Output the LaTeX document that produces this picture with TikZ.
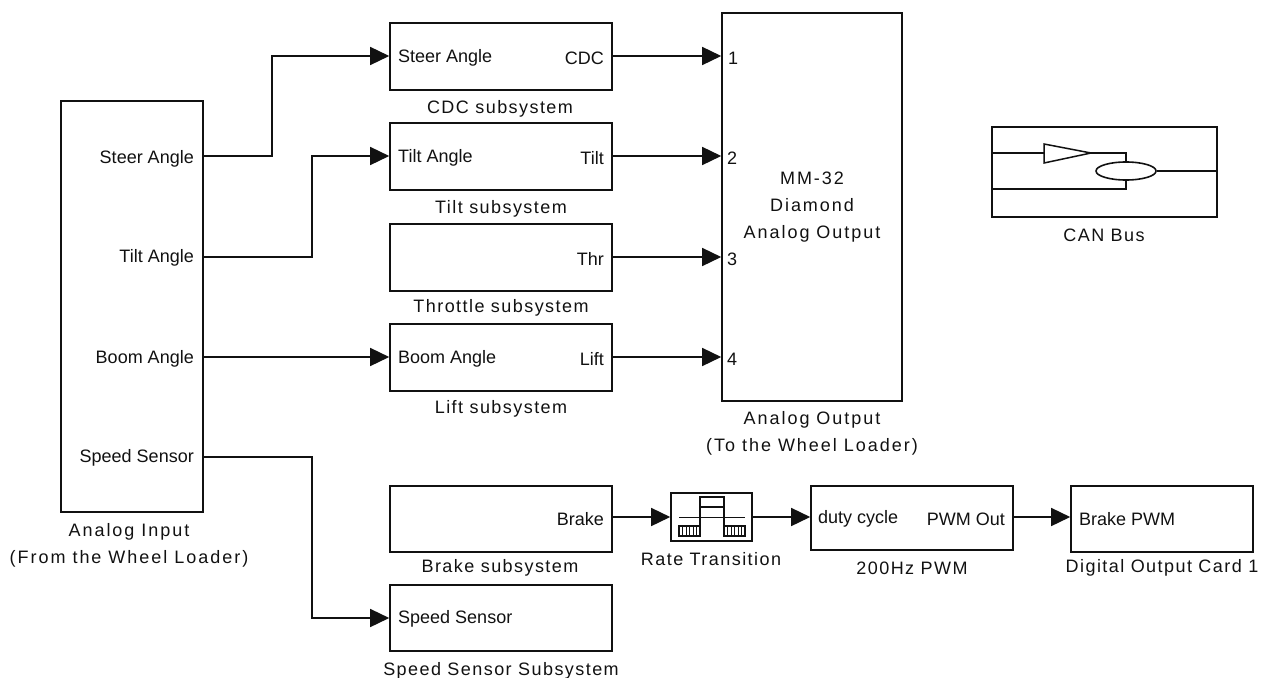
\documentclass[tikz,border=0pt]{standalone}
\usepackage{fontspec}
\setmainfont{Liberation Sans}
\newfontfamily\capfont[LetterSpace=8]{Liberation Sans}
\newfontfamily\capwidefont[LetterSpace=11]{Liberation Sans}
\usepackage{tikz}
\usetikzlibrary{arrows.meta,shapes.geometric}
\definecolor{ink}{HTML}{111111}
\tikzset{
  edge/.style={draw=ink, line width=1.6pt},
  blockbox/.style={edge, rectangle, inner sep=0pt},
  wire/.style={draw=ink, line width=1.5pt, -{Triangle[length=19pt,width=18pt]}},
  iconline/.style={draw=ink, line width=1.5pt},
  hatch/.style={draw=ink, line width=0.8pt},
  lab/.style={text=ink, font=\fontsize{18}{27}\selectfont, inner sep=0pt, yshift=-2pt},
  capt/.style={text=ink, font=\fontsize{18}{27}\capfont, align=center, inner sep=0pt, yshift=-2pt},
  captwide/.style={capt, font=\fontsize{18}{27}\capwidefont},
  portl/.style={lab, anchor=west},
  portr/.style={lab, anchor=east},
}

\begin{document}
\begin{tikzpicture}[x=1pt,y=-1pt]
  \useasboundingbox (0,0) rectangle (1271,677);

  % blocks
  \node[blockbox, minimum width=142pt, minimum height=411pt] (input) at (132,306.5) {};
  \node[blockbox, minimum width=222pt, minimum height=67pt] (cdc) at (501,56.5) {};
  \node[blockbox, minimum width=222pt, minimum height=67pt] (tilt) at (501,156.5) {};
  \node[blockbox, minimum width=222pt, minimum height=67pt] (thr) at (501,257.5) {};
  \node[blockbox, minimum width=222pt, minimum height=67pt] (lift) at (501,357.5) {};
  \node[blockbox, minimum width=180pt, minimum height=388pt] (output) at (812,207) {};
  \node[blockbox, minimum width=225pt, minimum height=90pt] (can) at (1104.5,172) {};
  \node[blockbox, minimum width=222pt, minimum height=66pt] (brake) at (501,519) {};
  \node[blockbox, minimum width=222pt, minimum height=66pt] (speed) at (501,618) {};
  \node[blockbox, minimum width=81pt, minimum height=48pt] (rate) at (711.5,517) {};
  \node[blockbox, minimum width=202pt, minimum height=64pt] (pwm) at (912,518) {};
  \node[blockbox, minimum width=182pt, minimum height=66pt] (card) at (1162,519) {};

  % port rows
  \coordinate (r1) at (0,56);
  \coordinate (r2) at (0,156);
  \coordinate (r3) at (0,257);
  \coordinate (r4) at (0,357);
  \coordinate (r5) at (0,517);
  \coordinate (r6) at (0,618);
  \coordinate (s1) at (272,156);
  \coordinate (s2) at (312,257);
  \coordinate (s4) at (312,457);

  % wires
  \draw[wire] (input.east |- r2) -- (s1) |- (cdc.west |- r1);
  \draw[wire] (input.east |- s2) -- (s2) |- (tilt.west |- r2);
  \draw[wire] (input.east |- r4) -- (lift.west |- r4);
  \draw[wire] (input.east |- s4) -- (s4) |- (speed.west |- r6);
  \draw[wire] (cdc.east |- r1) -- (output.west |- r1);
  \draw[wire] (tilt.east |- r2) -- (output.west |- r2);
  \draw[wire] (thr.east |- r3) -- (output.west |- r3);
  \draw[wire] (lift.east |- r4) -- (output.west |- r4);
  \draw[wire] (brake.east |- r5) -- (rate.west |- r5);
  \draw[wire] (rate.east |- r5) -- (pwm.west |- r5);
  \draw[wire] (pwm.east |- r5) -- (card.west |- r5);

  % port labels
  \node[portr] (l1) at (194,157) {Steer Angle};
  \node[portr] (l2) at (194,256) {Tilt Angle};
  \node[portr] (l3) at (194,357) {Boom Angle};
  \node[portr] (l4) at (194,456) {Speed Sensor};
  \node[portl] (l5) at (398,56) {Steer Angle};
  \node[portr] (l6) at (604,56) {CDC};
  \node[portl] (l7) at (398,156) {Tilt Angle};
  \node[portr] (l8) at (604,156) {Tilt};
  \node[portr] (l9) at (604,257) {Thr};
  \node[portl] (l10) at (398,357) {Boom Angle};
  \node[portr] (l11) at (604,357) {Lift};
  \node[portr] (l12) at (604,517) {Brake};
  \node[portl] (l13) at (398,617) {Speed Sensor};
  \node[portl] (l14) at (818,517) {duty cycle};
  \node[portr] (l15) at (1005,517) {PWM Out};
  \node[portl] (l16) at (1079,517) {Brake PWM};
  \node[portl] (l17) at (728,56) {1};
  \node[portl] (l18) at (727,156) {2};
  \node[portl] (l19) at (727,257) {3};
  \node[portl] (l20) at (727,357) {4};
  \node[captwide] (l21) at (812,205) {MM-32\\Diamond\\Analog Output};

  % captions
  \node[captwide] (c1) at (129,543) {Analog Input\\(From the Wheel Loader)};
  \node[capt] (c2) at (500,107) {CDC subsystem};
  \node[capt] (c3) at (501,207) {Tilt subsystem};
  \node[capt] (c4) at (501,306) {Throttle subsystem};
  \node[capt] (c5) at (501,407) {Lift subsystem};
  \node[captwide] (c6) at (812,431) {Analog Output\\(To the Wheel Loader)};
  \node[capt] (c7) at (1104,233) {CAN Bus};
  \node[capt] (c8) at (500,566) {Brake subsystem};
  \node[capt] (c9) at (711,557) {Rate Transition};
  \node[capt] (c10) at (912,566) {200Hz PWM};
  \node[capt] (c11) at (1162,566) {Digital Output Card 1};
  \node[capt] (c12) at (501,669) {Speed Sensor Subsystem};

  % rate transition icon
  \draw[iconline] (679,517.5) -- (745,517.5);
  \draw[iconline] (700,527) -- (700,497) -- (724,497) -- (724,527);
  \draw[iconline] (700,507) -- (724,507);
  \draw[iconline] (679,526) rectangle (700,536);
  \draw[iconline] (724,526) rectangle (745,536);
  \foreach \x in {682.5,686,689.5,693,696.5} {
    \draw[hatch] (\x,526) -- (\x,536);
    \draw[hatch] (\x+45,526) -- (\x+45,536);
  }

  % can bus icon
  \node[edge, ellipse, minimum width=60pt, minimum height=18pt, inner sep=0pt] (gate) at (1126,171) {};
  \coordinate (t1) at (1044,144);
  \coordinate (t2) at (1044,163);
  \coordinate (t3) at (1091,153);
  \draw[iconline] (t1) -- (t3) -- (t2) -- cycle;
  \draw[iconline] (can.west |- t3) -- (t1 |- t3);
  \draw[iconline] (t3) -| (gate.north);
  \draw[iconline] (gate.east) -- (can.east |- gate.east);
  \coordinate (t4) at (1126,189);
  \draw[iconline] (gate.south) -- (t4) -- (can.west |- t4);
\end{tikzpicture}
\end{document}
